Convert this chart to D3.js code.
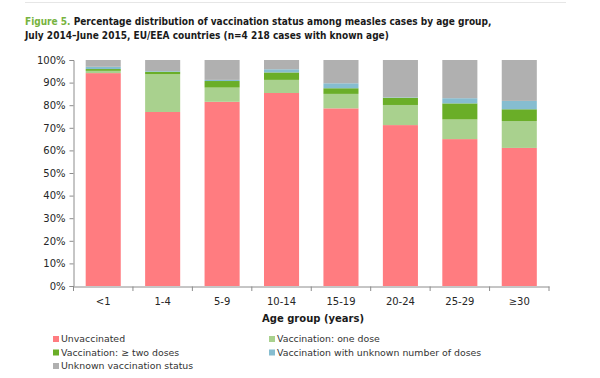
<!DOCTYPE html>
<html><head><meta charset="utf-8">
<script src="https://cdn.jsdelivr.net/npm/d3@7"></script>
<style>body{margin:0;background:#fff}svg{display:block}</style>
</head><body>
<svg id="c" width="600" height="378"></svg>
<script>
const categories = ["<1","1-4","5-9","10-14","15-19","20-24","25-29","\u226530"];
const seriesNames = ["Unvaccinated","Vaccination: one dose","Vaccination: \u2265 two doses","Vaccination with unknown number of doses","Unknown vaccination status"];
const unvaccinated = [94.2, 77.0, 81.5, 85.4, 78.6, 71.2, 65.0, 61.1];
const oneDose      = [1.0, 16.7, 6.3, 5.8, 6.4, 8.9, 8.7, 11.9];
const twoDoses     = [0.8, 1.1, 2.9, 3.3, 2.5, 3.2, 7.1, 5.2];
const unknownDoses = [1.0, 0.3, 0.5, 1.4, 2.2, 0.2, 2.3, 3.7];
const unknownStatus= [3.0, 4.9, 8.8, 4.1, 10.3, 16.5, 16.9, 18.1];
const yTicks = [0,10,20,30,40,50,60,70,80,90,100];
const colors = ["#ff7c80","#a9d18e","#6aae28","#86bdd0","#b0b0b0"];

const svg = d3.select("#c");
const rows = categories.map((c,i)=>({cat:c, s0:unvaccinated[i], s1:oneDose[i], s2:twoDoses[i], s3:unknownDoses[i], s4:unknownStatus[i]}));
const keys = ["s0","s1","s2","s3","s4"];
const stack = d3.stack().keys(keys)(rows);

const x = d3.scaleBand().domain(categories).range([73.5,549]).paddingInner(0.41).paddingOuter(0.205);
const y = d3.scaleLinear().domain([0,100]).range([286,60]);

// top rule
svg.append("line").attr("x1",25).attr("x2",566).attr("y1",2.5).attr("y2",2.5).attr("stroke","#e6e6e6");

// title
const t = svg.append("text").attr("x",25).attr("y",25).attr("font-family","DejaVu Sans Condensed, DejaVu Sans").attr("font-weight","bold").attr("font-size",11).attr("fill","#1a1a1a");
t.append("tspan").attr("fill","#77b340").text("Figure 5. ");
t.append("tspan").text("Percentage distribution of vaccination status among measles cases by age group,");
const t2 = svg.append("text").attr("x",25).attr("y",38.5).attr("font-family","DejaVu Sans Condensed, DejaVu Sans").attr("font-weight","bold").attr("font-size",11).attr("fill","#1a1a1a")
  .text("July 2014\u2013June 2015, EU/EEA countries (n=4 218 cases with known age)");
const w = t.node().getComputedTextLength();
const fs = 11*467/w;
t.attr("font-size",fs); t2.attr("font-size",fs);

// bars
svg.append("g").selectAll("g").data(stack).join("g").attr("fill",(d,i)=>colors[i])
  .selectAll("rect").data(d=>d).join("rect")
  .attr("x",d=>x(d.data.cat)).attr("width",x.bandwidth())
  .attr("y",d=>y(d[1])).attr("height",d=>y(d[0])-y(d[1]));

// y axis
const ya = svg.append("g").attr("transform","translate(73.5,0)")
  .call(d3.axisLeft(y).tickValues(yTicks).tickFormat(d=>d+"%").tickSize(4).tickPadding(4));
ya.select(".domain").attr("stroke","#8c8c8c");
ya.selectAll(".tick line").attr("stroke","#8c8c8c");
ya.selectAll("text").attr("font-family","DejaVu Sans").attr("font-size",10).attr("fill","#262626");

// x axis
const xa = svg.append("g").attr("transform","translate(0,286.5)")
  .call(d3.axisBottom(x).tickSize(0).tickPadding(11));
xa.select(".domain").attr("stroke","#8c8c8c");
xa.selectAll("text").attr("font-family","DejaVu Sans").attr("font-size",10).attr("fill","#262626");
const step = x.step();
const bounds = d3.range(categories.length+1).map(i=>x.range()[0]+i*step);
svg.append("g").selectAll("line").data(bounds).join("line")
  .attr("x1",d=>d).attr("x2",d=>d).attr("y1",286.5).attr("y2",291).attr("stroke","#8c8c8c");

svg.append("text").attr("x",313).attr("y",322).attr("text-anchor","middle")
  .attr("font-family","DejaVu Sans").attr("font-weight","bold").attr("font-size",10).attr("fill","#1a1a1a")
  .text("Age group (years)");

// legend
const legPos = [[53,342],[269,342],[53,355.5],[269,355.5],[53,369]];
const lg = svg.append("g").selectAll("g").data(seriesNames).join("g")
  .attr("transform",(d,i)=>`translate(${legPos[i][0]},${legPos[i][1]})`);
lg.append("rect").attr("x",0).attr("y",-6).attr("width",6).attr("height",6).attr("fill",(d,i)=>colors[i]);
lg.append("text").attr("x",8).attr("y",0).attr("font-family","DejaVu Sans").attr("font-size",9.4).attr("fill","#333")
  .text(d=>d);
</script>
</body></html>
